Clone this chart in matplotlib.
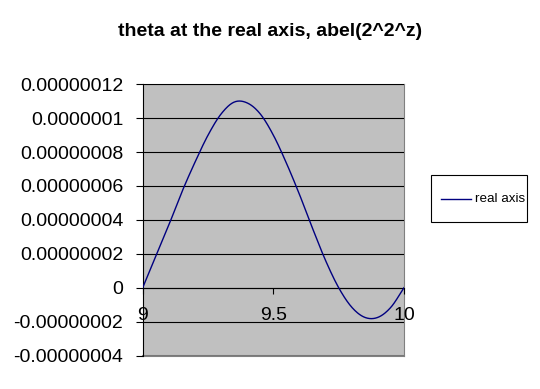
import numpy as np
import matplotlib
matplotlib.use('Agg')
import matplotlib.pyplot as plt
from matplotlib.patches import Rectangle
from matplotlib.lines import Line2D

x = [9.00, 9.05, 9.10, 9.15, 9.20, 9.25, 9.30, 9.35, 9.40, 9.45, 9.50,
     9.55, 9.60, 9.65, 9.70, 9.75, 9.80, 9.85, 9.90, 9.95, 10.00]
theta = [0, 1.85e-8, 3.7e-8, 5.65e-8, 7.4e-8, 9.0e-8, 1.025e-7, 1.095e-7, 1.09e-7, 1.025e-7, 9.0e-8,
         7.35e-8, 5.5e-8, 3.5e-8, 1.6e-8, 0.0, -1.15e-8, -1.75e-8, -1.75e-8, -1.15e-8, 0]
yticks = [-4e-8, -2e-8, 0, 2e-8, 4e-8, 6e-8, 8e-8, 1e-7, 1.2e-7]
ytick_labels = ['-0.00000004', '-0.00000002', '0', '0.00000002', '0.00000004',
                '0.00000006', '0.00000008', '0.0000001', '0.00000012']
xticks = [9, 9.5, 10]
xtick_labels = ['9', '9.5', '10']

plt.rcParams['font.family'] = ['Liberation Sans', 'DejaVu Sans']

fig = plt.figure(figsize=(5.4, 3.89), dpi=100)
W, H = 540, 389
ax = fig.add_axes([142.7 / W, 1 - 355.5 / H, (404 - 142.7) / W, (355.5 - 84.3) / H])
ax.set_facecolor('#C0C0C0')

# smooth the line through the points (Excel "smoothed line" look)
xa = np.array(x)
ya = np.array(theta)
def catmull(xq):
    out = np.zeros_like(xq)
    for k, t in enumerate(xq):
        i = min(max(np.searchsorted(xa, t) - 1, 0), len(xa) - 2)
        p0 = ya[max(i - 1, 0)]; p1 = ya[i]; p2 = ya[i + 1]; p3 = ya[min(i + 2, len(ya) - 1)]
        x0 = xa[max(i - 1, 0)]; x1 = xa[i]; x2 = xa[i + 1]; x3 = xa[min(i + 2, len(xa) - 1)]
        h = x2 - x1
        m1 = (p2 - p0) / (x2 - x0) * h
        m2 = (p3 - p1) / (x3 - x1) * h
        u = (t - x1) / h
        out[k] = ((2 * u**3 - 3 * u**2 + 1) * p1 + (u**3 - 2 * u**2 + u) * m1
                  + (-2 * u**3 + 3 * u**2) * p2 + (u**3 - u**2) * m2)
    return out
xs = np.linspace(9, 10, 400)
line, = ax.plot(xs, catmull(xs), color='#000080', lw=1.0, zorder=3)

ax.set_xlim(9, 10)
ax.set_ylim(-4e-8, 1.2e-7)
ax.set_yticks(yticks)
ax.set_yticklabels(ytick_labels)
ax.grid(axis='y', color='black', lw=0.8)
ax.set_axisbelow(False)

ax.spines['bottom'].set_position(('data', 0))
ax.set_xticks(xticks)
ax.set_xticklabels(xtick_labels)
ax.spines['bottom'].set_color('black')
ax.spines['left'].set_color('black')
ax.spines['top'].set_color('#808080')
ax.spines['right'].set_color('#808080')
for s in ax.spines.values():
    s.set_linewidth(0.8)
ax.axhline(-4e-8, color='#808080', lw=1.5, clip_on=False)

ax.tick_params(axis='y', direction='out', length=5, width=0.8, pad=9, labelsize=14)
ax.tick_params(axis='x', direction='out', length=4, width=0.8, pad=10, labelsize=14)

# legend box drawn like the Excel one
fig.patches.append(Rectangle((431 / W, 1 - 222 / H), 96 / W, 47 / H, transform=fig.transFigure,
                             facecolor='white', edgecolor='black', lw=0.8))
fig.lines.append(Line2D([441 / W, 471 / W], [1 - 198.5 / H] * 2, transform=fig.transFigure,
                        color='#000080', lw=1.0))
fig.text(475 / W, 1 - 198.5 / H, 'real axis', ha='left', va='center', fontsize=9.6)

fig.text(270 / W, 1 - 32 / H, 'theta at the real axis, abel(2^2^z)', ha='center', va='center',
         fontsize=14, fontweight='bold')

fig.savefig('out.png', dpi=100)
